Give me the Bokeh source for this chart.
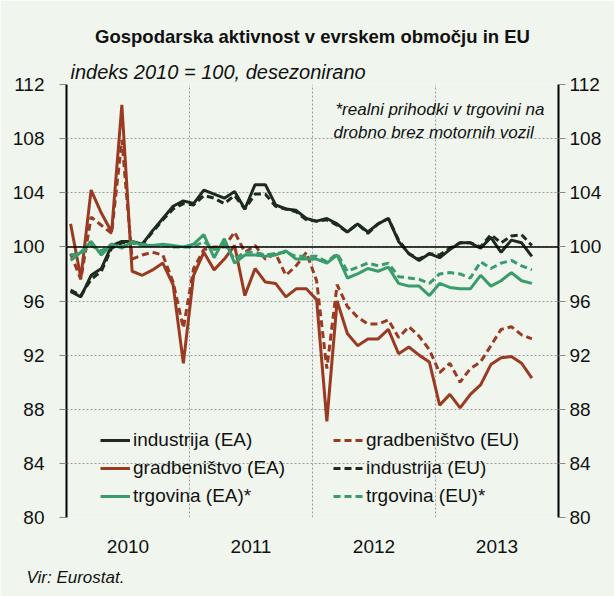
from bokeh.plotting import figure
from bokeh.models import (ColumnDataSource, Range1d, LinearAxis, FixedTicker, Span,
                          Label, Legend, LegendItem, Title)
from bokeh.embed import file_html
from bokeh.resources import INLINE

# ---- data (monthly, Jan 2010 = index 0) ----
months = list(range(46))
industry_ea = [96.7, 96.3, 97.9, 98.4, 100.1, 100.4, 100.4, 100.2, 101.2, 102.1, 103.0, 103.4,
               103.2, 104.2, 103.9, 103.6, 104.1, 102.8, 104.6, 104.6, 103.1, 102.8, 102.7, 102.1,
               101.9, 102.1, 101.7, 101.1, 101.7, 101.1, 101.7, 102.1, 100.4, 99.5, 99.0, 99.5,
               99.2, 99.8, 100.3, 100.3, 99.9, 100.7, 99.6, 100.5, 100.3, 99.3]
industry_eu = [96.8, 96.4, 97.6, 98.2, 99.9, 100.3, 100.3, 100.2, 101.1, 102.0, 102.8, 103.2,
               103.1, 103.8, 103.6, 103.2, 103.8, 102.8, 103.9, 103.9, 103.0, 102.8, 102.6, 102.0,
               101.9, 102.0, 101.6, 101.1, 101.7, 101.0, 101.7, 102.1, 100.5, 99.5, 99.1, 99.5,
               99.4, 99.9, 100.3, 100.3, 100.0, 100.9, 100.3, 100.8, 100.9, 100.1]
construction_ea = [101.7, 97.7, 104.2, 102.5, 101.1, 110.5, 98.2, 97.9, 98.3, 98.8, 97.2, 91.4,
                   97.9, 99.6, 98.3, 99.1, 100.1, 96.4, 98.4, 97.4, 97.3, 96.3, 96.9, 96.9,
                   96.1, 87.1, 96.0, 93.6, 92.7, 93.2, 93.2, 93.9, 92.1, 92.6, 92.0, 91.5,
                   88.3, 89.1, 88.1, 89.1, 89.8, 91.3, 91.8, 91.9, 91.4, 90.3]
construction_eu = [99.5, 97.6, 102.2, 101.6, 101.0, 107.9, 99.1, 99.4, 99.6, 99.4, 97.4, 94.0,
                   98.4, 99.8, 100.0, 100.0, 101.1, 99.6, 100.1, 99.1, 99.5, 97.9, 98.6, 99.6,
                   97.5, 91.0, 97.2, 95.6, 94.8, 94.3, 94.3, 94.6, 93.3, 94.1, 93.4, 92.4,
                   90.7, 91.4, 90.0, 91.0, 91.5, 92.7, 93.9, 94.1, 93.5, 93.2]
trade_ea = [99.0, 99.6, 100.4, 99.4, 100.2, 99.9, 100.4, 100.1, 100.1, 100.2, 100.1, 100.0,
            100.2, 100.9, 99.2, 100.6, 98.8, 99.4, 99.4, 99.3, 99.4, 99.7, 99.1, 99.1,
            99.1, 98.8, 99.4, 97.7, 98.0, 98.4, 98.2, 98.5, 97.3, 97.1, 97.1, 96.4,
            97.3, 97.0, 96.9, 96.9, 97.9, 97.1, 97.5, 98.1, 97.5, 97.3]
trade_eu = [99.4, 99.5, 100.1, 99.7, 100.2, 100.0, 100.3, 100.2, 100.1, 100.1, 100.0, 100.0,
            100.0, 100.4, 99.8, 100.2, 99.1, 99.6, 99.6, 99.4, 99.5, 99.6, 99.3, 99.3,
            99.3, 98.9, 99.5, 98.2, 98.5, 98.8, 98.6, 98.8, 97.8, 97.7, 97.6, 97.3,
            98.0, 98.1, 98.0, 97.7, 98.9, 98.4, 98.8, 99.0, 98.6, 98.3]
year_labels = ["2010", "2011", "2012", "2013"]
y_ticks = [80, 84, 88, 92, 96, 100, 104, 108, 112]

FONT = "Liberation Sans"
BG = "#F0F6EE"
TXT = "#111111"
C_IND = "#1E2B1C"
C_CON = "#9A3A22"
C_TRD = "#3A9B6B"

x = [m + 0.4 for m in months]
src = ColumnDataSource(dict(x=x, ind_ea=industry_ea, ind_eu=industry_eu,
                            con_ea=construction_ea, con_eu=construction_eu,
                            trd_ea=trade_ea, trd_eu=trade_eu))

p = figure(width=614, height=596, output_backend="svg", toolbar_location=None,
           x_range=Range1d(0, 48), y_range=Range1d(80, 112), title=None,
           min_border_left=66, min_border_right=56, min_border_top=84, min_border_bottom=76,
           background_fill_color=BG, border_fill_color=BG, outline_line_color=None)

# titles (closest to the plot first)
p.add_layout(Title(text="indeks 2010 = 100, desezonirano", align="left", offset=4,
                   text_font=FONT, text_font_size="20px", text_font_style="italic",
                   text_color=TXT, standoff=4), "above")
p.add_layout(Title(text="Gospodarska aktivnost v evrskem območju in EU", align="center",
                   vertical_align="top", padding=(0, 0, 8, 0),
                   text_font=FONT, text_font_size="18.5px", text_font_style="bold",
                   text_color=TXT, standoff=16), "above")

# axes
p.xaxis.ticker = FixedTicker(ticks=[6, 18, 30, 42])
p.xaxis.major_label_overrides = {6: year_labels[0], 18: year_labels[1], 30: year_labels[2], 42: year_labels[3]}
p.xaxis.axis_line_color = None
p.xaxis.major_tick_line_color = None
p.xaxis.minor_tick_line_color = None
p.xaxis.major_label_standoff = 16
p.xaxis.major_label_text_font = FONT
p.xaxis.major_label_text_font_size = "19px"
p.xaxis.major_label_text_color = TXT

p.add_layout(Title(text="Vir: Eurostat.", align="left", offset=-40,
                   text_font=FONT, text_font_size="17px", text_font_style="italic",
                   text_color=TXT, standoff=20), "below")

def style_y(ax):
    ax.ticker = FixedTicker(ticks=y_ticks)
    ax.axis_line_color = "black"
    ax.axis_line_width = 2
    ax.major_tick_line_color = "#888888"
    ax.major_tick_in = 0
    ax.major_tick_out = 7
    ax.minor_tick_line_color = None
    ax.major_label_text_font = FONT
    ax.major_label_text_font_size = "19px"
    ax.major_label_text_color = TXT

style_y(p.yaxis[0])
p.yaxis[0].major_label_standoff = 15
ry = LinearAxis()
style_y(ry)
ry.major_label_standoff = 4
p.add_layout(ry, "right")

p.xgrid.ticker = FixedTicker(ticks=[12, 24, 36])
p.xgrid.grid_line_color = "#9a9a9a"
p.xgrid.grid_line_dash = "2 2"
p.ygrid.grid_line_color = "#9a9a9a"
p.ygrid.grid_line_dash = "2 2"

p.add_layout(Span(location=100, dimension="width", line_color="black", line_width=1.5))

LW = 3
DASH = "7 4"
r_ind_eu = p.line("x", "ind_eu", source=src, color=C_IND, line_width=LW, line_dash=DASH)
r_ind_ea = p.line("x", "ind_ea", source=src, color=C_IND, line_width=LW)
r_con_eu = p.line("x", "con_eu", source=src, color=C_CON, line_width=LW, line_dash=DASH)
r_con_ea = p.line("x", "con_ea", source=src, color=C_CON, line_width=LW)
r_trd_eu = p.line("x", "trd_eu", source=src, color=C_TRD, line_width=LW, line_dash=DASH)
r_trd_ea = p.line("x", "trd_ea", source=src, color=C_TRD, line_width=LW)

def make_legend(items, loc):
    lg = Legend(items=items, location=loc, orientation="vertical",
                background_fill_alpha=0, border_line_color=None,
                padding=0, margin=0, spacing=0,
                glyph_width=30, glyph_height=28, label_height=28,
                label_standoff=3, label_text_font=FONT, label_text_font_size="19px",
                label_text_color=TXT)
    p.add_layout(lg, "center")

make_legend([LegendItem(label="industrija (EA)", renderers=[r_ind_ea]),
             LegendItem(label="gradbeništvo (EA)", renderers=[r_con_ea]),
             LegendItem(label="trgovina (EA)*", renderers=[r_trd_ea])], (34, 7))
make_legend([LegendItem(label="gradbeništvo (EU)", renderers=[r_con_eu]),
             LegendItem(label="industrija (EU)", renderers=[r_ind_eu]),
             LegendItem(label="trgovina (EU)*", renderers=[r_trd_eu])], (267, 7))

def lab(text, x, y, size, style="normal", align="left"):
    p.add_layout(Label(x=x, y=y, x_units="screen", y_units="screen", text=text,
                       text_font=FONT, text_font_size=size, text_font_style=style,
                       text_align=align, text_baseline="middle", text_color=TXT))

lab("*realni prihodki v trgovini na", 269, 408, "17px", "italic")
lab("drobno brez motornih vozil", 267, 385, "17px", "italic")

open("out.html", "w").write(file_html(p, INLINE))
